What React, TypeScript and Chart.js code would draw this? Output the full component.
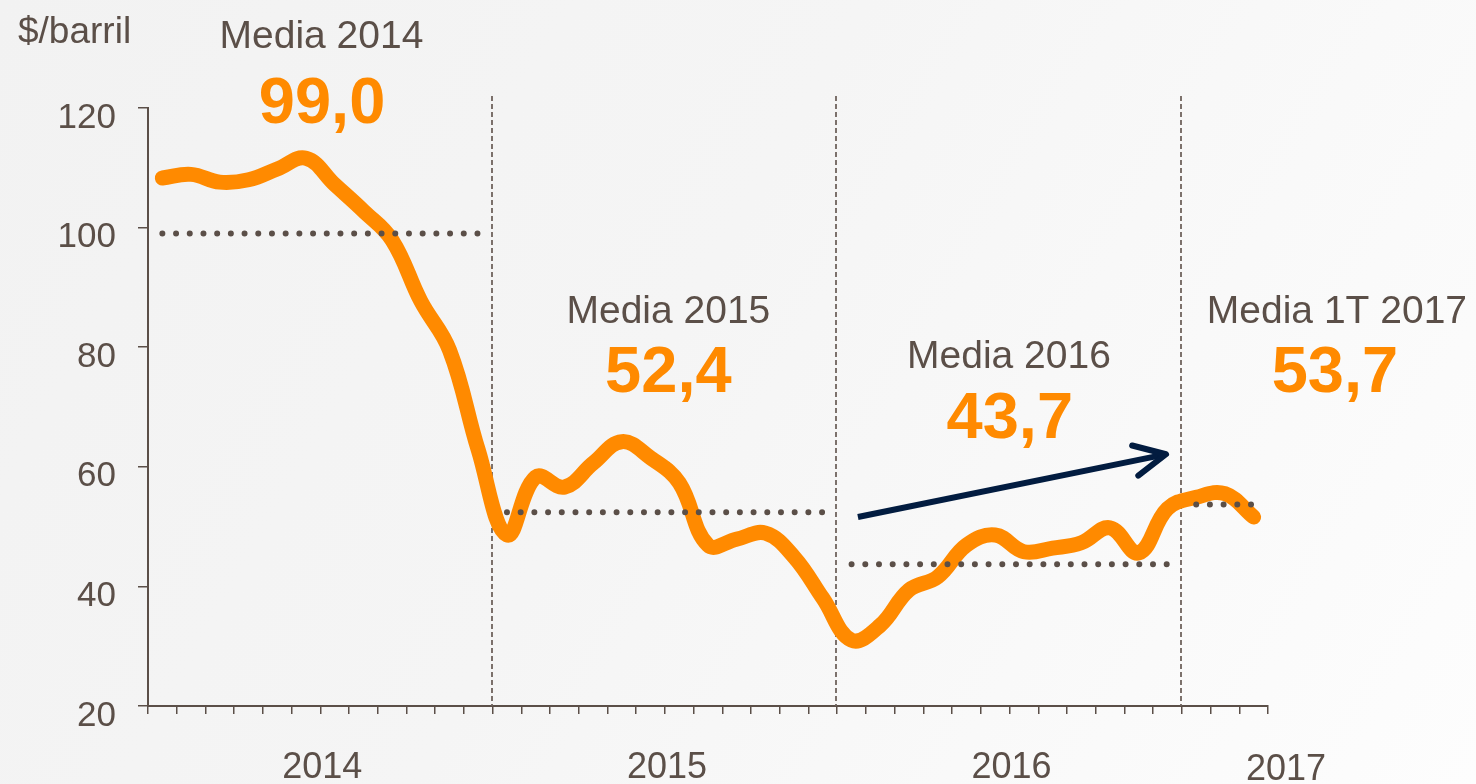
import React, { useEffect, useRef } from 'react';
import { Chart, registerables } from 'chart.js';

Chart.register(...registerables);

// ---- data ----
const YEARS = ['2014', '2015', '2016', '2017'];
const MONTHS_PER_YEAR = [12, 12, 12, 3];
const MONTH_NAMES = ['ene', 'feb', 'mar', 'abr', 'may', 'jun', 'jul', 'ago', 'sep', 'oct', 'nov', 'dic'];

const brent2014 = [108.3, 108.9, 107.6, 108.0, 109.8, 111.6, 107.2, 102.8, 97.9, 87.7, 79.5, 62.8];
const brent2015 = [48.6, 58.3, 56.6, 60.6, 64.2, 61.5, 57.3, 46.9, 47.9, 48.9, 44.9, 38.0];
const brent2016 = [31.0, 33.5, 39.4, 41.6, 46.9, 48.6, 45.8, 46.4, 47.3, 49.8, 45.6, 53.0];
const brent2017 = [54.9, 55.5, 51.6];

const yearAverages = [99.0, 52.4, 43.7, 53.7];
const averageTexts = ['99,0', '52,4', '43,7', '53,7'];
const averageTitles = ['Media 2014', 'Media 2015', 'Media 2016', 'Media 1T 2017'];

const yMin = 20;
const yMax = 120;
const yStep = 20;
const unitLabel = '$/barril';

// annotation anchors in data units (category index, value)
const titleAnchors = [
  { x: 5.54, y: 130.0 },
  { x: 17.62, y: 84.05 },
  { x: 29.48, y: 76.5 },
  { x: 40.9, y: 84.05 },
];
const valueAnchors = [
  { x: 5.56, y: 117.5 },
  { x: 17.62, y: 72.5 },
  { x: 29.51, y: 64.8 },
  { x: 40.83, y: 72.5 },
];
const arrowFrom = { x: 24.22, y: 51.6 };
const arrowTo = { x: 34.95, y: 62.1 };

// ---- derived ----
const monthLabels: string[] = [];
YEARS.forEach((yr, i) => {
  for (let m = 0; m < MONTHS_PER_YEAR[i]; m++) monthLabels.push(MONTH_NAMES[m] + ' ' + yr);
});
const brentAll = [...brent2014, ...brent2015, ...brent2016, ...brent2017];

const yearStarts: number[] = [];
{
  let s = 0;
  MONTHS_PER_YEAR.forEach((n) => {
    yearStarts.push(s);
    s += n;
  });
}

const averageSeries = yearAverages.map((avg, k) =>
  monthLabels.map((_, i) =>
    i >= yearStarts[k] && i < yearStarts[k] + MONTHS_PER_YEAR[k] ? avg : null
  )
);

const TEXT = '#5b4f48';
const ORANGE = '#ff8a00';
const NAVY = '#021c40';
const FONT = '"Liberation Sans", Arial, Helvetica, sans-serif';

const overlayPlugin = {
  id: 'overlay',
  beforeDatasetsDraw(chart: any) {
    const { ctx, chartArea, scales } = chart;
    const x = scales.x;
    const y = scales.y;
    ctx.save();
    ctx.strokeStyle = '#6f635d';
    ctx.lineWidth = 1.8;
    ctx.setLineDash([5, 3]);
    for (let k = 1; k < yearStarts.length; k++) {
      const s = yearStarts[k];
      const px = Math.round((x.getPixelForValue(s - 1) + x.getPixelForValue(s)) / 2) - 1;
      ctx.beginPath();
      ctx.moveTo(px, y.getPixelForValue(122));
      ctx.lineTo(px, chartArea.bottom);
      ctx.stroke();
    }
    ctx.restore();
  },
  afterDraw(chart: any) {
    const { ctx, chartArea, scales } = chart;
    const x = scales.x;
    const y = scales.y;
    ctx.save();
    ctx.textBaseline = 'alphabetic';

    // unit label
    ctx.fillStyle = TEXT;
    ctx.font = `37px ${FONT}`;
    ctx.textAlign = 'left';
    ctx.fillText(unitLabel, 18, 43);

    // titles and values
    ctx.textAlign = 'center';
    averageTitles.forEach((t, k) => {
      ctx.fillStyle = TEXT;
      ctx.font = `39px ${FONT}`;
      ctx.fillText(t, x.getPixelForValue(titleAnchors[k].x), y.getPixelForValue(titleAnchors[k].y));
      ctx.fillStyle = ORANGE;
      ctx.font = `bold 65px ${FONT}`;
      ctx.fillText(averageTexts[k], x.getPixelForValue(valueAnchors[k].x), y.getPixelForValue(valueAnchors[k].y));
    });

    // year labels
    ctx.fillStyle = TEXT;
    ctx.font = `36px ${FONT}`;
    YEARS.forEach((yr, k) => {
      const s = yearStarts[k];
      const n = MONTHS_PER_YEAR[k];
      let cx;
      let by = chartArea.bottom + 72;
      if (n === 12) {
        cx = (x.getPixelForValue(s) + x.getPixelForValue(s + n - 1)) / 2 + 2;
      } else {
        cx = chartArea.right + 18;
        by += 2;
      }
      ctx.fillText(yr, cx, by);
    });

    // arrow
    const x0 = x.getPixelForValue(arrowFrom.x);
    const y0 = y.getPixelForValue(arrowFrom.y);
    const x1 = x.getPixelForValue(arrowTo.x);
    const y1 = y.getPixelForValue(arrowTo.y);
    const ang = Math.atan2(y1 - y0, x1 - x0);
    ctx.strokeStyle = NAVY;
    ctx.lineWidth = 6;
    ctx.lineCap = 'butt';
    ctx.beginPath();
    ctx.moveTo(x0, y0);
    ctx.lineTo(x1 - 3 * Math.cos(ang), y1 - 3 * Math.sin(ang));
    ctx.stroke();
    const headLen = 35;
    const spread = (26 * Math.PI) / 180;
    ctx.lineCap = 'round';
    ctx.lineJoin = 'round';
    ctx.beginPath();
    ctx.moveTo(x1 - headLen * Math.cos(ang - spread), y1 - headLen * Math.sin(ang - spread));
    ctx.lineTo(x1, y1);
    ctx.lineTo(x1 - headLen * Math.cos(ang + spread), y1 - headLen * Math.sin(ang + spread));
    ctx.stroke();

    ctx.restore();
  },
};

export default function App() {
  const ref = useRef<HTMLCanvasElement | null>(null);

  useEffect(() => {
    document.body.style.margin = '0';
    const canvas = ref.current;
    if (!canvas) return;

    const datasets: any[] = [
      {
        label: 'Brent',
        data: brentAll,
        borderColor: ORANGE,
        borderWidth: 15,
        tension: 0.4,
        pointRadius: 0,
        borderCapStyle: 'round',
        borderJoinStyle: 'round',
        fill: false,
        order: 1,
      },
      ...averageSeries.map((d, k) => ({
        label: averageTitles[k],
        data: d,
        borderColor: TEXT,
        borderWidth: 6,
        borderDash: [0, 13.7],
        borderCapStyle: 'round',
        tension: 0,
        pointRadius: 0,
        fill: false,
        spanGaps: false,
        order: 0,
      })),
    ];

    const chart = new Chart(canvas, {
      type: 'line',
      data: { labels: monthLabels, datasets },
      options: {
        responsive: false,
        animation: false,
        devicePixelRatio: 1,
        layout: { padding: { top: 108, right: 208, bottom: 0, left: 0 } },
        plugins: {
          legend: { display: false },
          tooltip: { enabled: false },
        },
        scales: {
          x: {
            type: 'category',
            offset: true,
            grid: {
              offset: true,
              drawOnChartArea: false,
              drawTicks: true,
              tickLength: 8,
              color: TEXT,
              lineWidth: 1.5,
            },
            border: { display: true, color: TEXT, width: 2 },
            ticks: { display: false, autoSkip: false },
            afterFit(scale: any) {
              scale.height = 78;
            },
          },
          y: {
            min: yMin,
            max: yMax,
            grid: {
              drawOnChartArea: false,
              drawTicks: true,
              tickLength: 10,
              color: TEXT,
              lineWidth: 1.5,
            },
            border: { display: true, color: TEXT, width: 2 },
            ticks: {
              stepSize: yStep,
              color: TEXT,
              padding: 22,
              labelOffset: 10,
              font: { family: FONT, size: 35 },
            },
            afterFit(scale: any) {
              scale.width = 148;
            },
          },
        },
      },
      plugins: [overlayPlugin],
    } as any);

    return () => chart.destroy();
  }, []);

  return (
    <div
      style={{
        width: 1476,
        height: 784,
        background: 'linear-gradient(120deg, #f2f2f2 0%, #f5f5f5 45%, #fdfdfd 100%)',
      }}
    >
      <canvas ref={ref} width={1476} height={784} style={{ display: 'block' }} />
    </div>
  );
}
